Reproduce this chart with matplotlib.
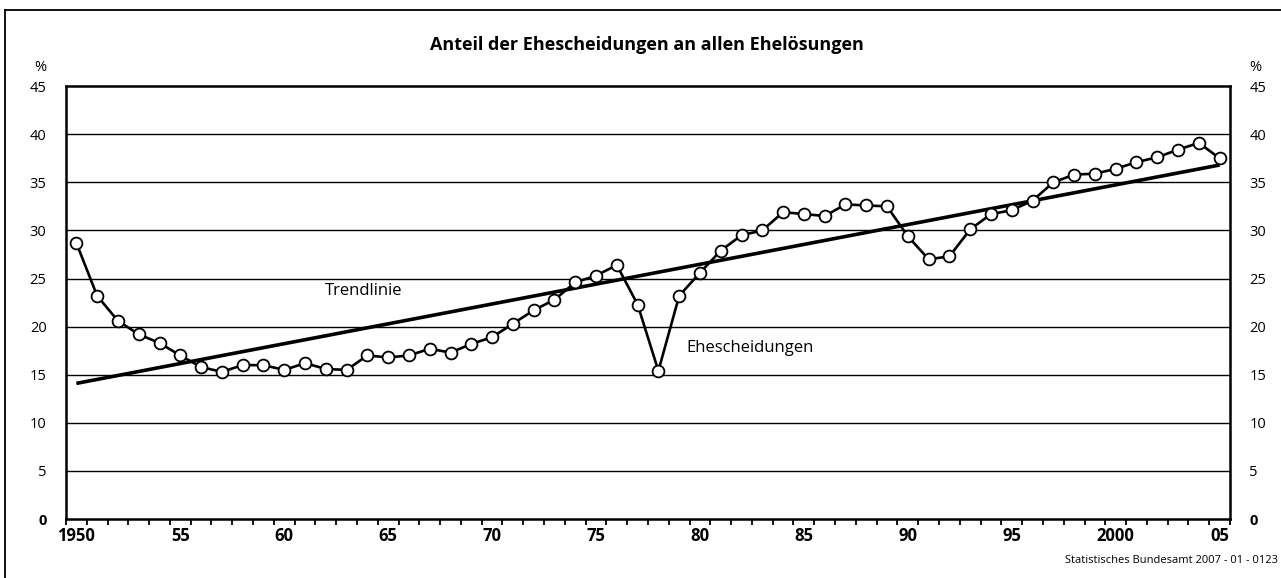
import numpy as np
import matplotlib
matplotlib.use("Agg")
import matplotlib.pyplot as plt
from matplotlib.lines import Line2D

plt.rcParams['font.family'] = ['Open Sans', 'DejaVu Sans']

# Anteil der Ehescheidungen an allen Ehelösungen, in %
years = list(range(1950, 2006))
scheidungen = [28.7, 23.2, 20.6, 19.2, 18.3, 17.0, 15.8, 15.3, 16.0, 16.0,
               15.5, 16.2, 15.6, 15.5, 17.0, 16.8, 17.0, 17.7, 17.3, 18.2,
               18.9, 20.3, 21.7, 22.8, 24.6, 25.3, 26.4, 22.3, 15.4, 23.2,
               25.6, 27.9, 29.5, 30.0, 31.9, 31.7, 31.5, 32.7, 32.6, 32.5,
               29.4, 27.0, 27.3, 30.1, 31.7, 32.1, 33.1, 35.0, 35.8, 35.9,
               36.4, 37.1, 37.6, 38.4, 39.1, 37.5]
trend_years = [1950, 2005]
trend_values = [14.1, 36.8]

yticks = [0, 5, 10, 15, 20, 25, 30, 35, 40, 45]
xtick_pos = [1950, 1955, 1960, 1965, 1970, 1975, 1980, 1985, 1990, 1995, 2000, 2005]
xtick_labels = ['1950', '55', '60', '65', '70', '75', '80', '85', '90', '95', '2000', '05']

fig = plt.figure(figsize=(12.81, 5.78), dpi=100)
ax = fig.add_axes([0.0515, 0.102, 0.9087, 0.749])

# horizontal grid lines
for y in yticks[1:-1]:
    ax.axhline(y, color='black', lw=1.0, zorder=1)

ax.plot(trend_years, trend_values, color='black', lw=2.6, solid_capstyle='butt', zorder=2)
ax.plot(years, scheidungen, color='black', lw=1.9, marker='o', ms=8.5,
        mfc='white', mec='black', mew=1.3, zorder=3)

ax.set_xlim(1949.5, 2005.5)
ax.set_ylim(0, 45)

for s in ax.spines.values():
    s.set_linewidth(1.8)
    s.set_color('black')

# x axis: tick marks at year boundaries, labels centred on years
ax.set_xticks(xtick_pos)
ax.set_xticklabels(xtick_labels, fontsize=12, fontweight='bold')
ax.set_xticks(np.arange(1949.5, 2006, 1.0), minor=True)
ax.tick_params(axis='x', which='major', length=0, pad=6)
ax.tick_params(axis='x', which='minor', length=4, width=1.3, direction='out')

# y axis labels on both sides
ax.set_yticks(yticks)
ax.tick_params(axis='y', length=0, pad=14, labelleft=True, labelright=True, labelsize=10.5)
for t, v in zip(ax.yaxis.get_major_ticks(), yticks):
    t.label2.set_horizontalalignment('left')
    if v == 0:
        t.label1.set_fontweight('bold')
        t.label2.set_fontweight('bold')

ax.text(-0.022, 1.043, '%', transform=ax.transAxes, ha='center', va='center', fontsize=10.5)
ax.text(1.0215, 1.043, '%', transform=ax.transAxes, ha='center', va='center', fontsize=10.5)

ax.text(1963.8, 23.7, 'Trendlinie', ha='center', va='center', fontsize=12)
ax.text(1982.4, 17.8, 'Ehescheidungen', ha='center', va='center', fontsize=12)

fig.text(0.505, 0.922, 'Anteil der Ehescheidungen an allen Ehelösungen',
         ha='center', va='center', fontsize=13, fontweight='bold')
fig.text(0.998, 0.031, 'Statistisches Bundesamt 2007 - 01 - 0123',
         ha='right', va='center', fontsize=8)

# frame of the original graphic (top and left edges)
fig.add_artist(Line2D([0.004, 1.0], [0.983, 0.983], transform=fig.transFigure,
                      color='black', lw=1.3))
fig.add_artist(Line2D([0.004, 0.004], [0.0, 0.983], transform=fig.transFigure,
                      color='black', lw=1.3))

fig.savefig('out.png', dpi=100)
